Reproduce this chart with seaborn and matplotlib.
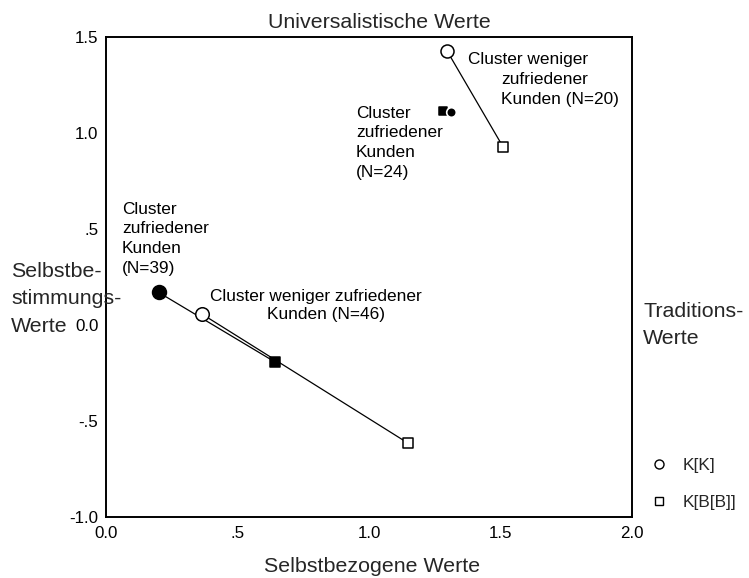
import matplotlib
matplotlib.use("Agg")
import matplotlib.pyplot as plt
from matplotlib.lines import Line2D
import pandas as pd
import seaborn as sns

# Cluster centroids for the two value dimensions (K[K] and K[B[B]])
clusters = ["N=39", "N=46", "N=24", "N=20"]
zufrieden = [True, False, True, False]
kk_selbstbezogen = [0.200, 0.365, 1.312, 1.297]
kk_selbstbestimmung = [0.170, 0.057, 1.107, 1.427]
kbb_selbstbezogen = [0.643, 1.148, 1.281, 1.510]
kbb_selbstbestimmung = [-0.193, -0.615, 1.115, 0.927]

x_ticks = [0.0, 0.5, 1.0, 1.5, 2.0]
x_tick_labels = ["0.0", ".5", "1.0", "1.5", "2.0"]
y_ticks = [-1.0, -0.5, 0.0, 0.5, 1.0, 1.5]
y_tick_labels = ["-1.0", "-.5", "0.0", ".5", "1.0", "1.5"]
legend_labels = ["K[K]", "K[B[B]]"]

rows = []
for i, c in enumerate(clusters):
    rows.append(dict(cluster=c, mass="K[K]", filled=zufrieden[i],
                     x=kk_selbstbezogen[i], y=kk_selbstbestimmung[i]))
    rows.append(dict(cluster=c, mass="K[B[B]]", filled=zufrieden[i],
                     x=kbb_selbstbezogen[i], y=kbb_selbstbestimmung[i]))
df = pd.DataFrame(rows)

sns.set_style("white")
plt.rcParams["font.family"] = ["Liberation Sans", "DejaVu Sans"]

W, H = 749, 578
fig = plt.figure(figsize=(W / 100, H / 100), dpi=100)
ax = fig.add_axes([106 / W, 1 - 517 / H, (632 - 106) / W, (517 - 37) / H])

# connecting line per cluster
sns.lineplot(data=df, x="x", y="y", units="cluster", estimator=None, sort=False,
             color="black", linewidth=0.9, ax=ax, legend=False, zorder=2)

# marker sizes (points^2) per cluster and measure
marker_size = {
    ("N=39", "K[K]"): 100, ("N=39", "K[B[B]]"): 62,
    ("N=46", "K[K]"): 95, ("N=46", "K[B[B]]"): 52,
    ("N=24", "K[K]"): 48, ("N=24", "K[B[B]]"): 36,
    ("N=20", "K[K]"): 88, ("N=20", "K[B[B]]"): 50,
}
draw_order = [("N=24", "K[B[B]]"), ("N=24", "K[K]"),
              ("N=39", "K[B[B]]"), ("N=39", "K[K]"),
              ("N=46", "K[B[B]]"), ("N=46", "K[K]"),
              ("N=20", "K[B[B]]"), ("N=20", "K[K]")]
for c, m in draw_order:
    sub = df[(df.cluster == c) & (df.mass == m)]
    filled = bool(sub.filled.iloc[0])
    face = "black" if filled else "white"
    edge = "black"
    lw = 1.1
    if c == "N=24" and m == "K[K]":
        edge, lw = "white", 1.2
    sns.scatterplot(data=sub, x="x", y="y", marker="o" if m == "K[K]" else "s",
                    s=marker_size[(c, m)], color=face, edgecolor=edge,
                    linewidth=lw, ax=ax, zorder=3, legend=False)

ax.set_xlim(0, 2.0)
ax.set_ylim(-1.0, 1.5)
ax.set_xticks(x_ticks)
ax.set_xticklabels(x_tick_labels)
ax.set_yticks(y_ticks)
ax.set_yticklabels(y_tick_labels)
ax.set_xlabel("")
ax.set_ylabel("")
ax.tick_params(axis="both", direction="out", length=2.5, width=2.6,
               color="black", labelsize=12.2, labelcolor="black")
ax.tick_params(axis="y", pad=3.0)
ax.tick_params(axis="x", pad=4.0)
for side in ["left", "bottom", "top", "right"]:
    ax.spines[side].set_visible(True)
    ax.spines[side].set_color("black")
    ax.spines[side].set_linewidth(1.4)

# cluster annotations: (text, x, y) with left-aligned lines
annotations = [
    ("Cluster", 0.061, 0.604), ("zufriedener", 0.061, 0.501),
    ("Kunden", 0.061, 0.399), ("(N=39)", 0.061, 0.296),
    ("Cluster", 0.951, 1.104), ("zufriedener", 0.951, 1.001),
    ("Kunden", 0.951, 0.899), ("(N=24)", 0.951, 0.796),
    ("Cluster weniger zufriedener", 0.395, 0.151),
    ("Kunden (N=46)", 0.612, 0.057),
    ("Cluster weniger", 1.376, 1.385),
    ("zufriedener", 1.502, 1.281),
    ("Kunden (N=20)", 1.502, 1.177),
]
for txt, tx, ty in annotations:
    ax.text(tx, ty, txt, fontsize=12.4, ha="left", va="center", color="black")

big = 15.4
fig.text(379 / W, 1 - 28 / H, "Universalistische Werte", fontsize=big,
         ha="center", va="baseline")
fig.text(372 / W, 1 - 572 / H, "Selbstbezogene Werte", fontsize=big,
         ha="center", va="baseline")
for txt, py in [("Selbstbe-", 277), ("stimmungs-", 304), ("Werte", 332)]:
    fig.text(11 / W, 1 - py / H, txt, fontsize=big, ha="left", va="baseline")
for txt, py in [("Traditions-", 317), ("Werte", 344)]:
    fig.text(643 / W, 1 - py / H, txt, fontsize=big, ha="left", va="baseline")

handles = [
    Line2D([], [], linestyle="none", marker="o", markersize=6.5,
           markerfacecolor="white", markeredgecolor="black", markeredgewidth=1.0),
    Line2D([], [], linestyle="none", marker="s", markersize=6.0,
           markerfacecolor="white", markeredgecolor="black", markeredgewidth=1.0),
]
fig.legend(handles, legend_labels, loc="center left",
           bbox_to_anchor=(650 / W, 1 - 484 / H), frameon=False,
           fontsize=12.4, handlelength=1.0, handletextpad=0.9,
           labelspacing=1.25, borderpad=0, borderaxespad=0)

fig.savefig("out.png", dpi=100)
